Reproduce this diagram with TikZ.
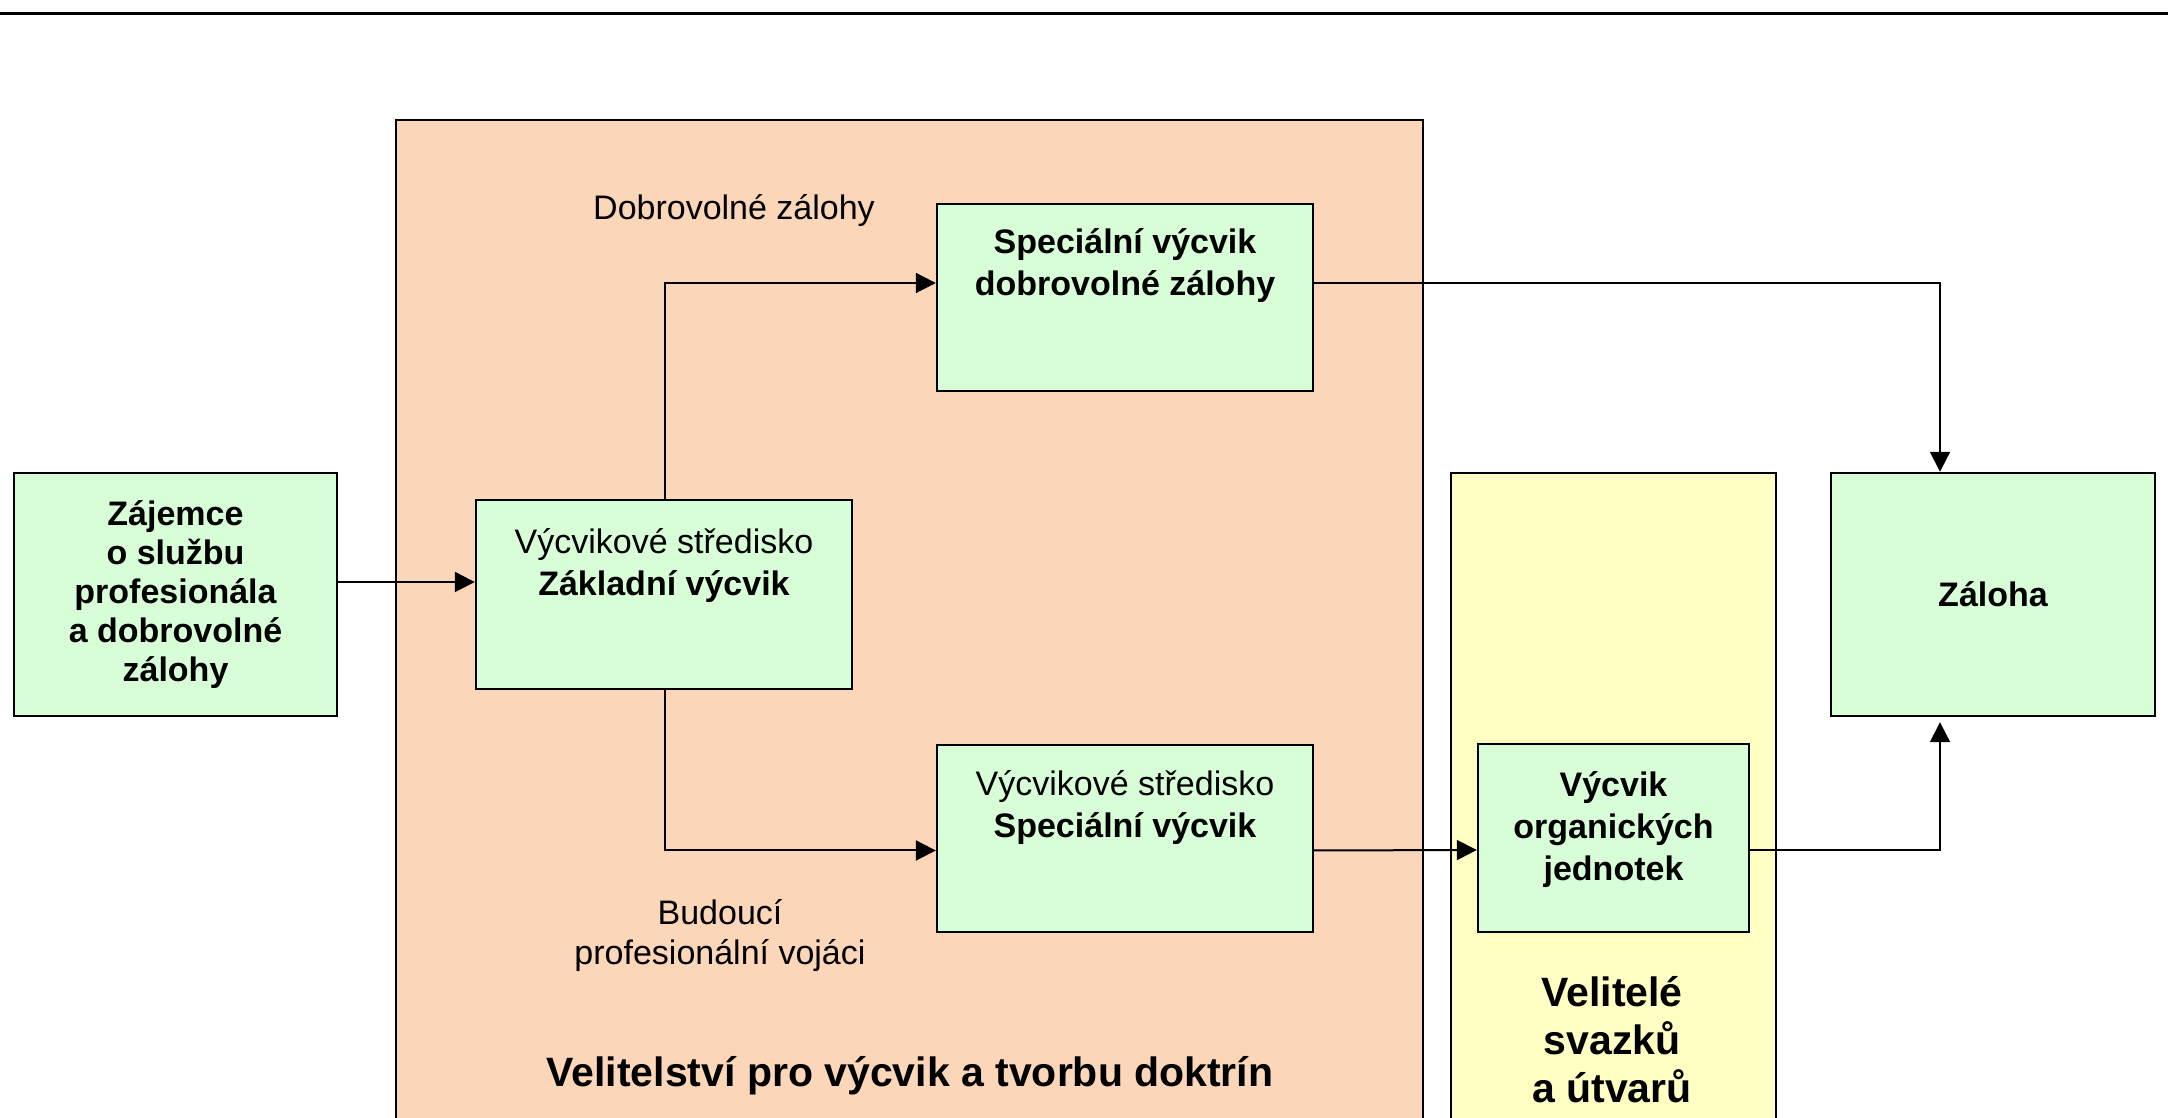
\documentclass[tikz,border=0pt]{standalone}
\usepackage{fontspec}
\setmainfont{Liberation Sans}
\usetikzlibrary{arrows.meta}

\definecolor{vycvikbg}{RGB}{252,214,184}
\definecolor{utvarbg}{RGB}{255,255,196}
\definecolor{krokbg}{RGB}{216,254,216}

\tikzset{
  krok/.style={draw=black, line width=1.2pt, fill=krokbg, inner sep=0pt,
    align=center, font=\fontsize{17}{19.5}\selectfont\bfseries},
  krokt/.style={align=center, inner sep=0pt, anchor=base,
    font=\fontsize{17}{21}\selectfont\bfseries},
  popis/.style={align=center, inner sep=0pt, anchor=base,
    font=\fontsize{17}{21}\selectfont},
  velitel/.style={align=center, inner sep=0pt, anchor=base,
    font=\fontsize{20.5}{24}\selectfont\bfseries},
  tok/.style={line width=1pt, -{Triangle[length=10pt,width=10pt]}},
  ramec/.style={line width=1.2pt},
}

\begin{document}
\begin{tikzpicture}[x=0.5pt,y=0.5pt]
\useasboundingbox (0,0) rectangle (2168,1118);

% top rule
\draw[line width=1.5pt] (0,1104) -- (2168,1104);

% command areas
\fill[vycvikbg] (396,0) rectangle (1423,998);
\draw[ramec] (396,0) -- (396,998) -- (1423,998) -- (1423,0);
\fill[utvarbg] (1451,0) rectangle (1776,645);
\draw[ramec] (1451,0) -- (1451,645) -- (1776,645) -- (1776,0);

% boxes
\node[krok, minimum width=161.5pt, minimum height=121.5pt] (zaj) at (175.5,523.5)
  {Zájemce\\o službu\\profesionála\\a dobrovolné\\zálohy};
\node[krok, minimum width=188pt, minimum height=94.5pt] (zak) at (664,523.5) {};
\node[krok, minimum width=188pt, minimum height=93.5pt] (dz) at (1125,820.5) {};
\node[krok, minimum width=188pt, minimum height=93.5pt] (spv) at (1125,279.5) {};
\node[krok, minimum width=135.5pt, minimum height=94pt] (org) at (1613.5,280) {};
\node[krok, minimum width=162pt, minimum height=121.5pt] (zal) at (1993,523.5) {Záloha};

% box texts (base = last line)
\node[popis] (zak-t) at ([yshift=-48.5pt]zak.north) {Výcvikové středisko\\\textbf{Základní výcvik}};
\node[krokt] (dz-t) at ([yshift=-46.5pt]dz.north) {Speciální výcvik\\dobrovolné zálohy};
\node[popis] (spv-t) at ([yshift=-47pt]spv.north) {Výcvikové středisko\\\textbf{Speciální výcvik}};
\node[krokt] (org-t) at ([yshift=-69pt]org.north) {Výcvik\\organických\\jednotek};

% labels
\node[popis] (dobr) at (734,898) {Dobrovolné zálohy};
\node[popis, font=\fontsize{17}{20}\selectfont] (bud) at (720,153) {Budoucí\\profesionální vojáci};
\node[velitel] (vvtd) at (910,31) {Velitelství pro výcvik a tvorbu doktrín};
\node[velitel] (vsu) at (1612,15) {Velitelé\\svazků\\a útvarů};

% flows
\draw[tok] ([yshift=6.25pt]zaj.east) -- ([yshift=6.25pt]zak.west);
\draw[tok] ([xshift=0.5pt]zak.north) |- ([yshift=7.25pt]dz.west);
\draw[tok] ([xshift=0.5pt]zak.south) |- ([yshift=-6pt]spv.west);
\draw[tok] ([yshift=-6pt]spv.east) -- ([yshift=-6pt]org.west);
\draw[tok] ([yshift=7.25pt]dz.east) -| ([xshift=-26.5pt]zal.north);
\draw[tok, shorten >=2.5pt] ([yshift=-6pt]org.east) -| ([xshift=-26.5pt]zal.south);

\end{tikzpicture}
\end{document}
